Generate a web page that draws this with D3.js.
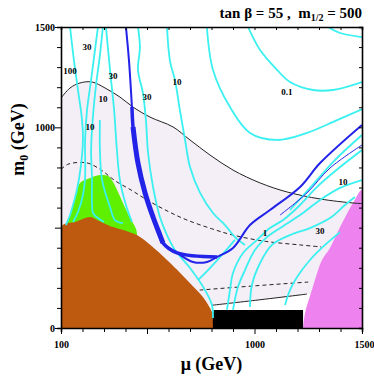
<!DOCTYPE html>
<html>
<head>
<meta charset="utf-8">
<script src="https://cdn.jsdelivr.net/npm/d3@7"></script>
<style>
  body { margin: 0; background: #fff; }
  svg text { font-family: "Times New Roman", "Liberation Serif", Times, "DejaVu Serif", serif !important; font-weight: bold; }
</style>
</head>
<body>
<svg id="chart" width="374" height="377"></svg>
<script>
// axis setup (mu in GeV, m0 in GeV)
const muTicks = d3.range(100, 1501, 100);
const muLabels = [100, 1000, 1500];
const m0Ticks = d3.range(0, 1501, 100);
const m0Labels = [0, 1000, 1500];

// shaded regions, [mu, m0]
const brownRegion = [[100,0],[100,505],[170,530],[235,553],[265,540],[342,503],[400,485],[453,463],[520,410],[593,339],[640,290],[686,239],[725,195],[760,154],[785,115],[802,80],[807,30],[807,0]];
const greenRegion = [[109,503],[128,528],[165,638],[188,722],[235,747],[281,762],[319,757],[342,727],[365,678],[388,623],[421,548],[453,473],[400,300],[109,300]];
const blackRegion = [[807,0],[805,60],[810,90],[1226,90],[1226,0]];
const magentaRegion = [[1226,0],[1235,75],[1267,189],[1314,339],[1351,399],[1398,503],[1458,623],[1500,688],[1500,0]];
const lavenderTop = [[100,1146],[142,1196],[188,1221],[244,1226],[305,1196],[374,1151],[435,1101],[514,1051],[621,1002],[700,937],[793,862],[900,787],[1026,723],[1151,678],[1305,643],[1458,623],[1500,620]];
const lavenderBottom = [[1500,175],[1244,169],[807,115],[100,115]];

// black solid / dashed lines
const lowerSolid = [[800,113],[1020,140],[1244,169]];
const upperDashed = [[100,790],[130,815],[179,825],[230,820],[290,785],[350,735],[430,685],[500,638],[600,580],[686,538],[800,495],[900,463],[1050,432],[1212,414],[1310,404]];
const lowerDashed = [[745,189],[1000,210],[1250,229]];

// blue lines
const blueLine = [[402,1500],[416,1335],[430,1101],[435,1002],[458,822],[491,673],[528,553],[560,463],[574,424],[640,374],[714,329],[779,329],[826,354],[900,399],[979,513],[1072,588],[1212,703],[1305,822],[1500,1012]];
const blueLine2 = [[1119,563],[1244,673],[1351,797],[1500,912]];

// cyan contours
const cyanLines = [
  [[142,1500],[160,1335],[179,1186],[198,1036],[202,937],[193,812],[174,688],[156,613],[142,563],[123,513]],
  [[272,1500],[258,1385],[240,1236],[221,1086],[212,937],[212,747],[202,663],[179,578],[156,528]],
  [[295,1500],[281,1360],[263,1211],[249,1061],[240,887],[244,747],[244,623],[249,573],[272,548],[300,528]],
  [[309,1500],[328,1286],[347,1086],[360,887],[374,737],[402,613],[430,528]],
  [[281,1036],[281,887],[291,737],[328,603],[351,538],[388,523]],
  [[458,1500],[467,1400],[458,1286],[481,1171],[495,1036],[505,872],[528,703],[560,553],[593,463],[630,389],[700,299],[770,189],[802,115],[807,50]],
  [[593,1500],[607,1330],[630,1236],[653,1086],[677,937],[700,802],[747,673],[807,573],[863,513],[909,453],[956,414]],
  [[909,439],[849,364],[784,289],[737,239]],
  [[779,1495],[807,1286],[886,1101],[979,972],[1105,937],[1244,972],[1384,1036],[1500,1090]],
  [[970,1500],[1026,1385],[1105,1286],[1165,1226],[1272,1186],[1365,1186],[1500,1226]],
  [[1342,1500],[1398,1470],[1500,1450]],
  [[872,90],[886,189],[900,274],[947,374],[1012,439],[1072,498],[1133,538],[1212,613],[1291,703],[1398,802],[1500,887]],
  [[900,90],[923,204],[956,289],[1002,389],[1058,453],[1119,498],[1212,563],[1305,638],[1398,698],[1500,737]],
  [[979,105],[988,214],[1026,324],[1081,414],[1165,463],[1258,498],[1351,548],[1421,613],[1467,653]],
  [[1142,115],[1165,189],[1198,254],[1258,339],[1328,414],[1398,478]],
  [[1165,588],[1258,698],[1374,837],[1500,962]]
];

// contour labels
const labelText = ['30','100','30','10','30','10','0.1','10','10','1','30'];
const labelMu = [221,142,342,295,500,640,1151,235,1412,1049,1305];
const labelM0 = [1400,1281,1256,1141,1151,1226,1176,1002,728,473,483];

const margin = { top: 27, right: 12, bottom: 49, left: 61 };
const width = 374, height = 377;

const svg = d3.select('#chart');

const x = d3.scaleLinear().domain([100, 1500]).range([margin.left, width - margin.right]);
const y = d3.scaleLinear().domain([0, 1500]).range([height - margin.bottom, margin.top]);

svg.append('clipPath').attr('id', 'plotclip')
  .append('rect')
  .attr('x', x(100)).attr('y', y(1500))
  .attr('width', x(1500) - x(100)).attr('height', y(0) - y(1500));

const plot = svg.append('g').attr('clip-path', 'url(#plotclip)');

const smooth = d3.line().x((d) => x(d[0])).y((d) => y(d[1])).curve(d3.curveCatmullRom.alpha(0.5));
const straight = d3.line().x((d) => x(d[0])).y((d) => y(d[1]));

// lavender allowed region
plot.append('path')
  .attr('d', smooth(lavenderTop) + straight(lavenderBottom).replace('M', 'L') + 'Z')
  .attr('fill', '#f4eef6');

plot.append('path').attr('d', smooth(greenRegion) + 'Z').attr('fill', '#5ef000');
plot.append('path').attr('d', smooth(brownRegion) + 'Z').attr('fill', '#bd5a0f');
plot.append('path').attr('d', smooth(magentaRegion) + 'Z').attr('fill', '#ee82ee');
plot.append('path').attr('d', straight(blackRegion) + 'Z').attr('fill', '#000');

// black boundary lines
plot.append('path').attr('d', smooth(lavenderTop)).attr('fill', 'none').attr('stroke', '#222').attr('stroke-width', 1);
plot.append('path').attr('d', smooth(lowerSolid)).attr('fill', 'none').attr('stroke', '#222').attr('stroke-width', 1);
plot.append('path').attr('d', smooth(upperDashed)).attr('fill', 'none').attr('stroke', '#222')
  .attr('stroke-width', 1).attr('stroke-dasharray', '4,3');
plot.append('path').attr('d', smooth(lowerDashed)).attr('fill', 'none').attr('stroke', '#222')
  .attr('stroke-width', 1).attr('stroke-dasharray', '4,3');

// cyan contours
plot.selectAll('path.cyan')
  .data(cyanLines)
  .join('path')
  .attr('class', 'cyan')
  .attr('d', smooth)
  .attr('fill', 'none')
  .attr('stroke', '#3af0f0')
  .attr('stroke-width', 1.8);

// blue relic density strip
plot.append('path').attr('d', smooth(blueLine)).attr('fill', 'none').attr('stroke', '#2222e8').attr('stroke-width', 2);
plot.append('path').attr('d', smooth(blueLine.filter((d) => d[1] > 340 && d[1] < 1200 && d[0] < 900)))
  .attr('fill', 'none').attr('stroke', '#2222e8').attr('stroke-width', 3.5);
plot.append('path').attr('d', smooth(blueLine.filter((d) => d[1] > 400 && d[1] < 1050 && d[0] < 600)))
  .attr('fill', 'none').attr('stroke', '#2222e8').attr('stroke-width', 5);
plot.append('path').attr('d', smooth(blueLine2)).attr('fill', 'none').attr('stroke', '#2222e8').attr('stroke-width', 1);

// labels on contours
svg.append('g')
  .selectAll('text')
  .data(labelText)
  .join('text')
  .attr('x', (d, i) => x(labelMu[i]))
  .attr('y', (d, i) => y(labelM0[i]))
  .attr('text-anchor', 'middle')
  .attr('dy', '0.35em')
  .attr('font-size', 9)
  .text((d) => d);

// axes
const fmt = (list) => (d) => (list.includes(d) ? d : '');
const isMajor = (d) => d % 500 === 0 || d === 100;

const xAxis = svg.append('g').attr('transform', `translate(0,${y(0)})`)
  .call(d3.axisBottom(x).tickValues(muTicks).tickSize(4).tickPadding(9).tickFormat(fmt(muLabels)));
const yAxis = svg.append('g').attr('transform', `translate(${x(100)},0)`)
  .call(d3.axisLeft(y).tickValues(m0Ticks).tickSize(4).tickPadding(2).tickFormat(fmt(m0Labels)));
svg.append('g').attr('transform', `translate(0,${y(1500)})`)
  .call(d3.axisTop(x).tickValues(muTicks).tickSize(-3).tickFormat(''));
svg.append('g').attr('transform', `translate(${x(1500)},0)`)
  .call(d3.axisRight(y).tickValues(m0Ticks).tickSize(-3).tickFormat(''));

svg.selectAll('g').attr('font-family', null);
svg.selectAll('.domain').attr('stroke-width', 1.6);
svg.selectAll('.tick line').attr('stroke-width', 1);
xAxis.selectAll('.tick line').attr('y2', (d) => (isMajor(d) ? 6 : 4));
yAxis.selectAll('.tick line').attr('x2', (d) => (d % 500 === 0 ? -6 : -4));
svg.selectAll('.tick text').attr('font-size', 10).attr('fill', '#000');
xAxis.selectAll('.tick text').filter((d) => d === 1500).attr('dx', 2);

// titles
const title = svg.append('text').attr('x', x(1500)).attr('y', 18).attr('text-anchor', 'end').attr('font-size', 15);
title.append('tspan').text('tan β = 55 ,\u00a0\u00a0m');
title.append('tspan').attr('font-size', 10).attr('dy', 3).text('1/2');
title.append('tspan').attr('dy', -3).text(' = 500');

svg.append('text')
  .attr('x', (x(100) + x(1500)) / 2)
  .attr('y', 370)
  .attr('text-anchor', 'middle')
  .attr('font-size', 18)
  .text('μ (GeV)');

const ylab = svg.append('text')
  .attr('transform', `translate(24,${(y(0) + y(1500)) / 2 - 38}) rotate(-90)`)
  .attr('text-anchor', 'middle')
  .attr('font-size', 18);
ylab.append('tspan').text('m');
ylab.append('tspan').attr('font-size', 12).attr('dy', 4).text('0');
ylab.append('tspan').attr('dy', -4).text(' (GeV)');
</script>
</body>
</html>
